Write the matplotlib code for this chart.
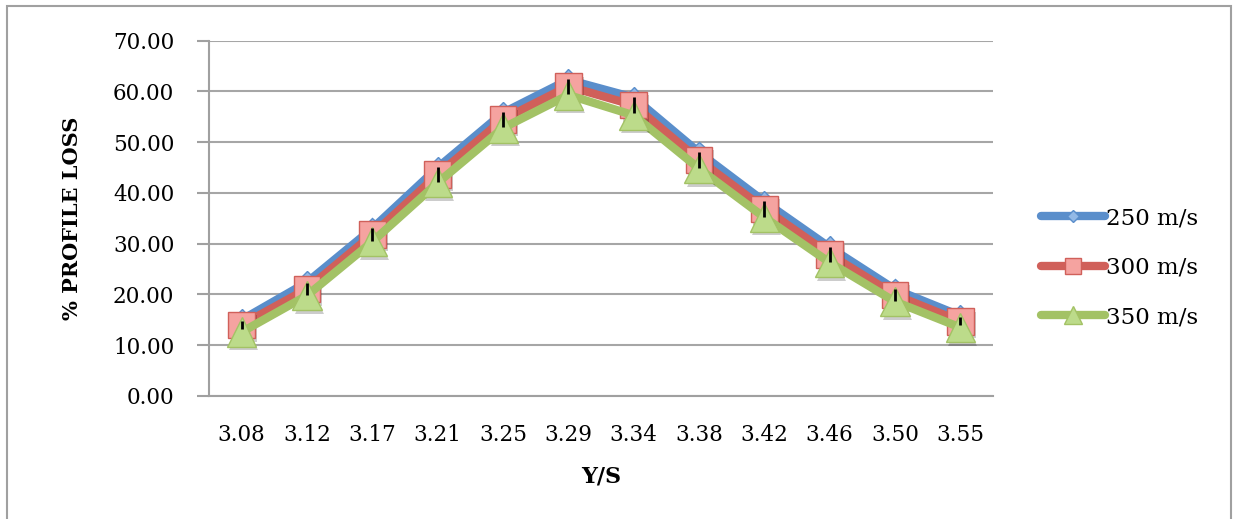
import matplotlib
matplotlib.use("Agg")
import matplotlib.pyplot as plt
import matplotlib.patheffects as pe
from matplotlib.patches import Rectangle
import numpy as np

# Y/S positions along the pitch
ys_labels = ["3.08", "3.12", "3.17", "3.21", "3.25", "3.29",
             "3.34", "3.38", "3.42", "3.46", "3.50", "3.55"]

# % profile loss for each inlet velocity
loss_250 = [15.0, 22.4, 33.0, 45.0, 55.8, 62.3, 58.8, 48.0, 38.3, 29.3, 21.0, 15.8]
loss_300 = [14.0, 21.1, 31.8, 43.6, 54.5, 61.0, 57.3, 46.5, 36.9, 27.9, 19.9, 14.7]
loss_350 = [12.6, 19.8, 30.4, 42.0, 52.8, 59.3, 55.3, 44.8, 35.2, 26.3, 18.6, 13.5]
loss_err = [0.8, 1.2, 1.3, 1.5, 1.5, 1.5, 1.6, 1.6, 1.6, 1.5, 1.2, 0.8]

plt.rcParams["font.family"] = "DejaVu Serif"

fig = plt.figure(figsize=(12.36, 5.19), dpi=100)
ax = fig.add_axes([0.1691, 0.237, 0.8034 - 0.1691, 0.9216 - 0.237])

x = np.arange(len(ys_labels))
shadow = [pe.SimplePatchShadow(offset=(1.5, -2.5), shadow_rgbFace="black", alpha=0.2), pe.Normal()]

series = [
    (loss_250, "250 m/s", "#5A8ECB", "D", "#93B9E6", "#5A8ECB", 11),
    (loss_300, "300 m/s", "#D0605A", "s", "#F5A3A0", "#D0605A", 19),
    (loss_350, "350 m/s", "#A3C265", "^", "#BCDB8A", "#A3C265", 21),
]

z = 3
for vals, lab, col, mk, face, edge, ms in series:
    ax.plot(x, vals, color=col, lw=6, solid_capstyle="round", zorder=z)
    ax.plot(x, vals, ls="none", marker=mk, ms=ms, mfc=face, mec=edge, mew=1,
            zorder=z + 0.5, path_effects=shadow)
    z += 1

# legend proxies (smaller markers)
for vals, lab, col, mk, face, edge, ms in series:
    ax.plot([], [], color=col, lw=6, solid_capstyle="round", marker=mk,
            ms=ms * 0.6, mfc=face, mec=edge, mew=1, label=lab)

ax.errorbar(x, loss_300, yerr=loss_err, fmt="none", ecolor="black",
            elinewidth=2, capsize=0, zorder=10)

ax.set_xlim(-0.5, len(ys_labels) - 0.5)
ax.set_ylim(0, 70)
ax.set_yticks(np.arange(0, 71, 10))
ax.set_yticklabels([f"{v:.2f}" for v in range(0, 71, 10)], fontsize=15.5)
ax.set_xticks(x)
ax.set_xticklabels(ys_labels, fontsize=15.5)
ax.tick_params(axis="x", length=0, pad=20)
ax.tick_params(axis="y", length=9, width=1.5, color="#A0A0A0", pad=16)

ax.grid(axis="y", color="#A6A6A6", lw=1.5)
ax.set_axisbelow(True)
for s in ["top", "right"]:
    ax.spines[s].set_visible(False)
for s in ["left", "bottom"]:
    ax.spines[s].set_color("#A0A0A0")
    ax.spines[s].set_linewidth(1.5)

ax.set_ylabel("% PROFILE LOSS", fontsize=15, fontweight="bold", labelpad=22)
ax.set_xlabel("Y/S", fontsize=16, fontweight="bold", labelpad=14)

ax.legend(loc="center left", bbox_to_anchor=(1032 / 1236, 1 - 268 / 519),
          bbox_transform=fig.transFigure, frameon=False, fontsize=16.5,
          handlelength=2.8, handletextpad=0.05, labelspacing=1.2,
          borderaxespad=0)

# outer chart border
fig.patches.append(Rectangle((7 / 1236, -0.05), 1224 / 1236, 1.05 - 6 / 519,
                             transform=fig.transFigure, fill=False,
                             edgecolor="#A0A0A0", lw=1.5))

fig.savefig("out.png", dpi=100)
